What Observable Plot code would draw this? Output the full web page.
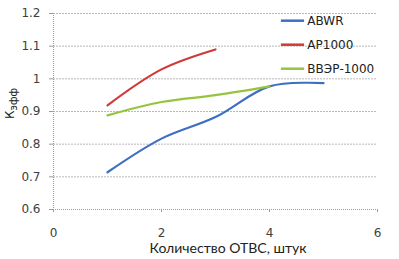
<!DOCTYPE html>
<html>
<head>
<meta charset="utf-8">
<script src="https://cdn.jsdelivr.net/npm/d3@7"></script>
<script src="https://cdn.jsdelivr.net/npm/@observablehq/plot@0.6"></script>
<style>
  html, body { margin: 0; padding: 0; background: #fff; }
  #chart { position: relative; width: 399px; height: 259px; }
</style>
</head>
<body>
<div id="chart"></div>
<script>
const seriesNames = ["ABWR", "AP1000", "ВВЭР-1000"];
const seriesColors = ["#3d6fc2", "#cf3a36", "#96c43e"];
const abwrX = [1, 2, 3, 4, 5];
const abwrY = [0.714, 0.817, 0.883, 0.977, 0.987];
const ap1000X = [1, 2, 3];
const ap1000Y = [0.919, 1.029, 1.09];
const vverX = [1, 2, 3, 4];
const vverY = [0.888, 0.929, 0.95, 0.977];
const xTicks = [0, 2, 4, 6];
const yTicks = [0.6, 0.7, 0.8, 0.9, 1.0, 1.1, 1.2];
const xLabel = "Количество ОТВС, штук";
const yLabelMain = "К";
const yLabelSub = "эфф";

const rows = [];
[[abwrX, abwrY], [ap1000X, ap1000Y], [vverX, vverY]].forEach(([xs, ys], i) => {
  xs.forEach((x, j) => rows.push({series: seriesNames[i], x, y: ys[j]}));
});

const legendRows = seriesNames.map((s, i) => ({series: s, i}));

const font = "'DejaVu Sans', Verdana, sans-serif";
const plot = Plot.plot({
  width: 399,
  height: 259,
  marginLeft: 53,
  marginRight: 22,
  marginTop: 13,
  marginBottom: 50,
  style: {fontFamily: font, fontSize: "12px", color: "#404040", background: "#fff"},
  x: {domain: [0, 6]},
  y: {domain: [0.6, 1.2]},
  color: {domain: seriesNames, range: seriesColors},
  marks: [
    Plot.gridY(yTicks.filter(d => d > 0.6), {stroke: "#b8b8b8", strokeOpacity: 1, strokeDasharray: "2,1"}),
    Plot.ruleX([0], {stroke: "#9a9a9a", strokeDasharray: "1,1"}),
    Plot.ruleY([0.6], {stroke: "#9a9a9a", strokeDasharray: "1,1"}),
    Plot.axisY(yTicks, {tickSize: 4, tickPadding: 9, stroke: "#9a9a9a", tickFormat: d => String(+d.toFixed(1)), fill: "#404040", fontSize: 12, label: null}),
    Plot.axisX(xTicks, {tickSize: 3, tickPadding: 16, stroke: "#9a9a9a", fill: "#404040", fontSize: 12, label: null}),
    Plot.line(rows, {x: "x", y: "y", z: "series", stroke: "series", strokeWidth: 2.2, curve: "catmull-rom"}),
    // legend
    Plot.ruleY(legendRows, {x1: 4.22, x2: 4.65, y: d => 1.178 - d.i * 0.0735, stroke: "series", strokeWidth: 2.5}),
    Plot.text(legendRows, {x: 4.70, y: d => 1.178 - d.i * 0.0735, text: "series", textAnchor: "start", fill: "#222", fontSize: 12})
  ]
});

const svg = d3.select(plot);
svg.append("text")
  .attr("x", 228).attr("y", 253)
  .attr("text-anchor", "middle")
  .attr("font-family", "Lato, 'Open Sans', sans-serif")
  .attr("font-size", 14)
  .attr("fill", "#222")
  .text(xLabel);
const yl = svg.append("text")
  .attr("transform", "translate(14,119) rotate(-90)")
  .attr("text-anchor", "start")
  .attr("font-family", font)
  .attr("font-size", 12)
  .attr("fill", "#222");
yl.append("tspan").text(yLabelMain);
yl.append("tspan").attr("dy", 3).attr("font-size", 10).text(yLabelSub);

document.getElementById("chart").appendChild(plot);
</script>
</body>
</html>
